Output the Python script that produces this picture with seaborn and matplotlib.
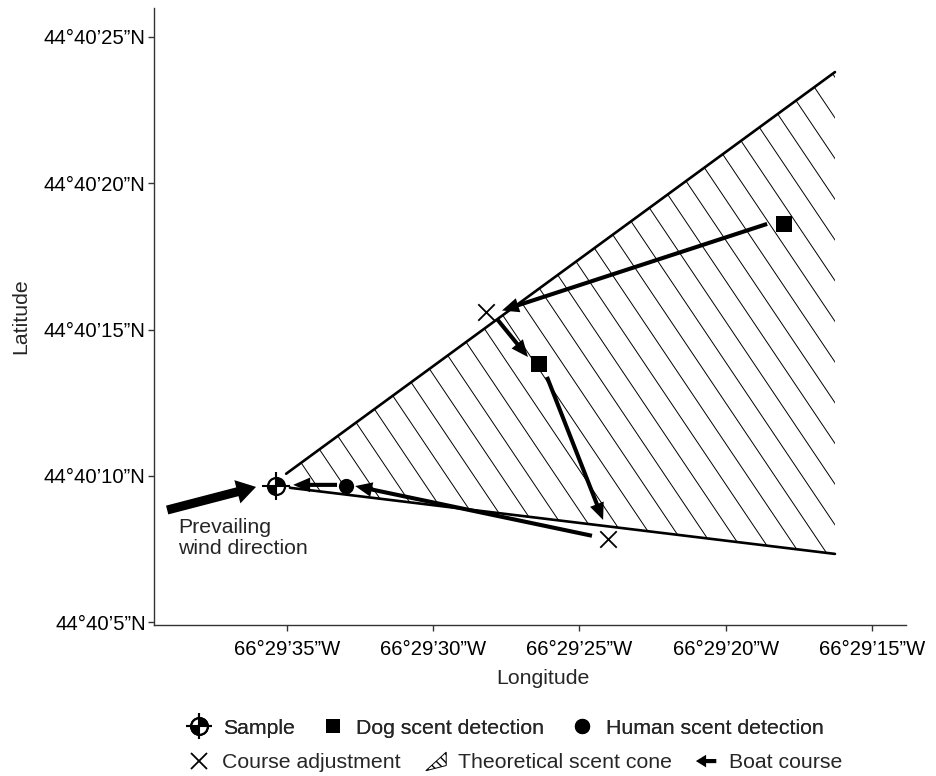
import numpy as np
import seaborn as sns
import matplotlib.pyplot as plt
import matplotlib.patches as mpatches
from matplotlib.path import Path
from matplotlib.lines import Line2D
from matplotlib.legend_handler import HandlerBase
from matplotlib.collections import LineCollection

# positions in arc-seconds past 66°29'W (lon) and 44°40'N (lat)
sample_lon = [35.38]
sample_lat = [9.65]
dog_lon = [26.38, 18.00]
dog_lat = [13.82, 18.61]
human_lon = [32.98]
human_lat = [9.65]
adjust_lon = [28.19, 24.02]
adjust_lat = [15.60, 7.84]

cone_upper_lon = [35.03, 16.26]
cone_upper_lat = [10.07, 23.80]
cone_lower_lon = [34.90, 16.26]
cone_lower_lat = [9.59, 7.33]

# boat course legs (start -> end)
course_lon0 = [18.58, 27.82, 26.11, 24.57, 33.29]
course_lat0 = [18.61, 15.36, 13.38, 7.95, 9.69]
course_lon1 = [27.65, 26.76, 24.19, 32.67, 34.79]
course_lat1 = [15.65, 14.06, 8.49, 9.65, 9.69]

wind_lon = [39.10, 36.06]
wind_lat = [8.83, 9.62]

lon_ticks = [35, 30, 25, 20, 15]
lat_ticks = [5, 10, 15, 20, 25]
lon_labels = [f"66°29’{s}”W" for s in lon_ticks]
lat_labels = [f"44°40’{s}”N" for s in lat_ticks]

sns.set_theme(style="ticks")
plt.rcParams['font.family'] = ['Liberation Sans', 'DejaVu Sans']
FS = 15.3
TFS = 14.6


def quadrant_marker():
    verts, codes = [], []
    for a in (0, np.pi):
        th = np.linspace(a, a + np.pi / 2, 20)
        pts = [(0, 0)] + list(zip(np.cos(th), np.sin(th))) + [(0, 0)]
        verts += pts
        codes += [Path.MOVETO] + [Path.LINETO] * (len(pts) - 2) + [Path.CLOSEPOLY]
    return Path(verts, codes)


QUAD = quadrant_marker()

fig = plt.figure(figsize=(9.37, 7.76), dpi=100)
ax = fig.add_axes([154 / 937, 1 - 625 / 776, 752 / 937, 617 / 776])

# hatched scent cone
poly = list(zip(cone_upper_lon, cone_upper_lat)) + list(zip(cone_lower_lon[::-1], cone_lower_lat[::-1]))
cone = mpatches.Polygon(poly, closed=True, facecolor='none', edgecolor='none')
ax.add_patch(cone)
d = np.array([-0.558, -0.830])
n = np.array([0.830, -0.558])
cs = np.array(poly) @ n
c0, step = 1.864, 0.776
ks = np.arange(np.floor((cs.min() - c0) / step), np.ceil((cs.max() - c0) / step) + 1)
segs = [[(c0 + k * step) * n - 40 * d, (c0 + k * step) * n + 40 * d] for k in ks]
hatch = LineCollection(segs, colors='black', linewidths=0.7, zorder=1)
ax.add_collection(hatch)
hatch.set_clip_path(cone)

sns.lineplot(x=cone_upper_lon, y=cone_upper_lat, color='black', lw=1.9, ax=ax, sort=False, zorder=2)
sns.lineplot(x=cone_lower_lon, y=cone_lower_lat, color='black', lw=1.9, ax=ax, sort=False, zorder=2)

# boat course
for x0, y0, x1, y1 in zip(course_lon0, course_lat0, course_lon1, course_lat1):
    ax.arrow(x0, y0, x1 - x0, y1 - y0, width=0.14, head_width=0.5, head_length=0.58,
             length_includes_head=True, color='black', lw=0, zorder=3)

# wind
ax.arrow(wind_lon[0], wind_lat[0], wind_lon[1] - wind_lon[0], wind_lat[1] - wind_lat[0],
         width=0.31, head_width=0.82, head_length=0.66, length_includes_head=True,
         color='black', lw=0, zorder=3)
ax.text(38.73, 8.55, "Prevailing\nwind direction", ha='left', va='top', fontsize=FS, linespacing=1.1)

# points
sns.scatterplot(x=dog_lon, y=dog_lat, marker='s', s=120, color='black', linewidth=0, ax=ax, zorder=5)
sns.scatterplot(x=human_lon, y=human_lat, marker='o', s=120, color='black', linewidth=0, ax=ax, zorder=5)
sns.scatterplot(x=adjust_lon, y=adjust_lat, marker='x', s=140, color='black', linewidth=1.3, ax=ax, zorder=5)
ax.scatter(sample_lon, sample_lat, marker='o', s=150, facecolor='white', edgecolor='black', linewidth=1.6, zorder=5)
ax.scatter(sample_lon, sample_lat, marker=QUAD, s=150, color='black', linewidth=0, zorder=6)
ax.scatter(sample_lon, sample_lat, marker='+', s=380, color='black', linewidth=1.5, zorder=7)

ax.set_xlim(39.55, 13.83)
ax.set_ylim(4.9, 25.99)
ax.set_xticks(lon_ticks, lon_labels)
ax.set_yticks(lat_ticks, lat_labels)
ax.tick_params(labelsize=TFS, length=4, width=1, colors='#333333', labelcolor='black')
ax.tick_params(axis='x', pad=7)
ax.tick_params(axis='y', pad=2)
for s in ('left', 'bottom'):
    ax.spines[s].set_color('#333333')
    ax.spines[s].set_linewidth(1)
sns.despine(ax=ax)
ax.set_xlabel("Longitude", fontsize=FS, labelpad=7)
ax.set_ylabel("Latitude", fontsize=FS, labelpad=10)
ax.xaxis.label.set_x((543 - 154) / 752)


class ConeHandler(HandlerBase):
    def create_artists(self, legend, orig_handle, xdescent, ydescent, width, height, fontsize, trans):
        x0, y0 = -xdescent + width * 0.15, -ydescent - height * 0.15
        tri = mpatches.Polygon([[x0, y0], [x0 + width * 0.8, y0 + height * 1.25], [x0 + width * 0.8, y0 + height * 0.35]],
                               closed=True, facecolor='white', edgecolor='black', hatch='\\\\\\\\', lw=0.7,
                               transform=trans)
        return [tri]


class ArrowHandler(HandlerBase):
    def create_artists(self, legend, orig_handle, xdescent, ydescent, width, height, fontsize, trans):
        y = -ydescent + height / 2
        arr = mpatches.FancyArrow(-xdescent + width * 0.9, y, -width * 0.8, 0, width=height * 0.28,
                                  head_width=height * 0.85, head_length=width * 0.4,
                                  length_includes_head=True, color='black', lw=0, transform=trans)
        return [arr]


sample_h = (Line2D([], [], ls='none', marker='o', ms=12, mfc='white', mec='black', mew=1.6),
            Line2D([], [], ls='none', marker=QUAD, ms=12, color='black', mew=0),
            Line2D([], [], ls='none', marker='+', ms=19, color='black', mew=1.5))
dog_h = Line2D([], [], ls='none', marker='s', ms=10.5, color='black', mew=0)
human_h = Line2D([], [], ls='none', marker='o', ms=11, color='black', mew=0)
adjust_h = Line2D([], [], ls='none', marker='x', ms=11.5, color='black', mew=1.3)
cone_h = mpatches.Patch()
course_h = mpatches.Patch()

leg1 = fig.legend([sample_h, dog_h, human_h], ["Sample", "Dog scent detection", "Human scent detection"],
                  loc='center', bbox_to_anchor=(0.539, 1 - 728 / 776), ncol=3, frameon=False, fontsize=FS,
                  handlelength=1.2, handletextpad=0.5, columnspacing=1.2)
leg2 = fig.legend([adjust_h, cone_h, course_h], ["Course adjustment", "Theoretical scent cone", "Boat course"],
                  loc='center', bbox_to_anchor=(0.549, 1 - 763 / 776), ncol=3, frameon=False, fontsize=FS,
                  handlelength=1.2, handletextpad=0.5, columnspacing=1.0,
                  handler_map={cone_h: ConeHandler(), course_h: ArrowHandler()})
fig.add_artist(leg1)

fig.savefig("out.png", dpi=100)
